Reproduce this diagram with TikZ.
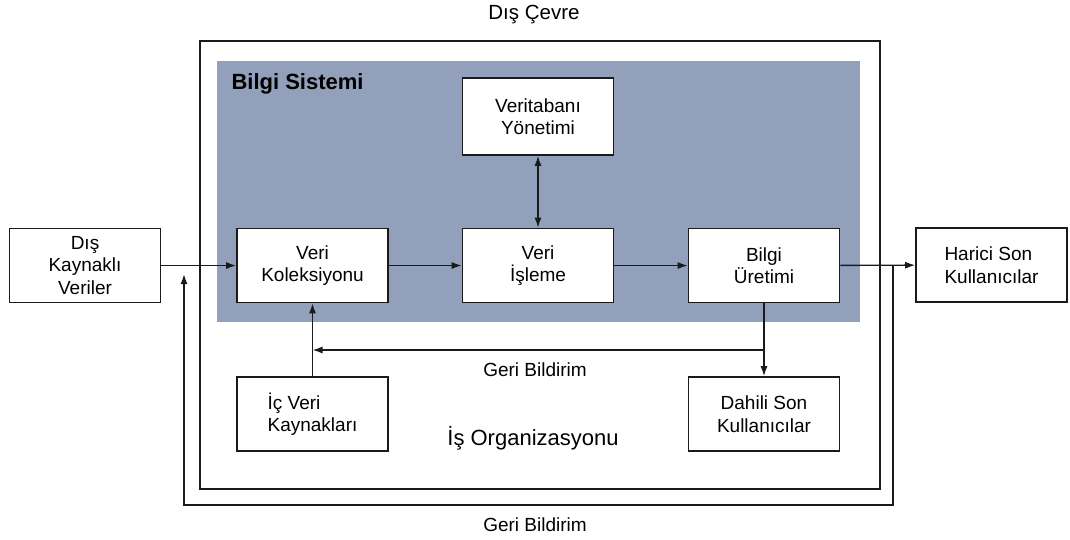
\documentclass[tikz,border=0pt]{standalone}
\usepackage{fontspec}
\setmainfont{Liberation Sans}
\usetikzlibrary{arrows.meta,positioning,calc}
\definecolor{bsblue}{HTML}{93A0BB}
\definecolor{bsgray}{HTML}{1A1A1A}

\begin{document}
\begin{tikzpicture}[
  x=1pt,
  y=-1pt,
  font=\fontsize{19}{22.5}\selectfont,
  kutu/.style={rectangle, draw=bsgray, line width=1.6pt, fill=white, minimum width=151pt, minimum height=74pt, inner sep=0pt, align=center},
  ok/.style={-{Latex[length=10pt,width=7pt]}, line width=1.4pt, draw=bsgray},
  ciftok/.style={{Latex[length=10pt,width=7pt]}-{Latex[length=10pt,width=7pt]}, line width=1.4pt, draw=bsgray}
]
  \useasboundingbox (0,0) rectangle (1070,539);
  % frames
  \draw[line width=1.5pt, draw=bsgray] (200,41) rectangle (880,489);
  \fill[bsblue] (217,61) rectangle (860,322);
  \node[font=\fontsize{20.5}{24}\selectfont] (cevre) at (534,15) {Dış Çevre};
  \node[font=\fontsize{22}{24}\selectfont\bfseries, anchor=west] (bilgi) at (228,84) {Bilgi Sistemi};
  \node[font=\fontsize{22}{26}\selectfont] (isorg) at (533,438) {İş Organizasyonu};

  % boxes
  \node[kutu] (dis) at (85,265.5) {Dış\\Kaynaklı\\Veriler};
  \node[kutu] (koleksiyon) at (312.5,265.5) {Veri\\Koleksiyonu};
  \node[kutu] (isleme) at (538,265.5) {Veri\\İşleme};
  \node[kutu] (uretim) at (764,265.5) {Bilgi\\Üretimi};
  \node[kutu, align=left] (harici) at (991.5,265) {Harici Son\\Kullanıcılar};
  \node[kutu, minimum height=77pt] (vtys) at (538,116.5) {Veritabanı\\Yönetimi};
  \node[kutu, align=left] (icveri) at (312.5,414) {İç Veri\\Kaynakları};
  \node[kutu] (dahili) at (764,414) {Dahili Son\\Kullanıcılar};

  % arrows
  \draw[ok] (dis) -- (koleksiyon);
  \draw[ok] (koleksiyon) -- (isleme);
  \draw[ok] (isleme) -- (uretim);
  \draw[ciftok] (vtys) -- (isleme);
  \draw[ok] (uretim) -- (harici);
  \draw[ok] (uretim) -- (dahili);
  \draw[ok] (icveri) -- (koleksiyon);
  \coordinate (geri) at (764,350);
  \draw[ok] (geri) -- (koleksiyon |- geri);
  \node (geri1) at (535,370) {Geri Bildirim};

  % outer feedback
  \coordinate (dal) at (893,265.5);
  \coordinate (donus) at (184,274);
  \draw[ok] (dal) -- ++(0,239.5) -| (donus);
  \node (geri2) at (535,525) {Geri Bildirim};
\end{tikzpicture}
\end{document}
